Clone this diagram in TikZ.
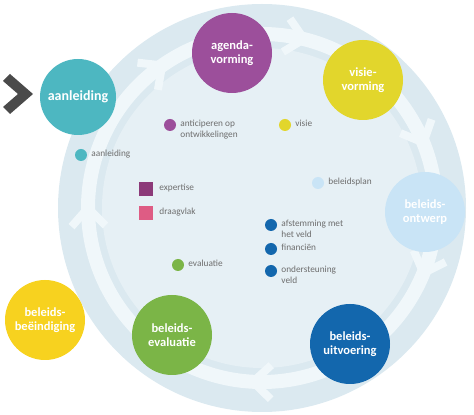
\documentclass[tikz,border=0pt]{standalone}
\usepackage{fontspec}
\setmainfont{Carlito}
\usepackage{tikz}
\usetikzlibrary{positioning, calc, arrows.meta}
\usepackage{xcolor}

\definecolor{cAanl}{HTML}{4DB7C1}
\definecolor{cAgenda}{HTML}{9C4F9B}
\definecolor{cVisie}{HTML}{E2D62C}
\definecolor{cOntwerp}{HTML}{C9E4F6}
\definecolor{cUitv}{HTML}{1367AD}
\definecolor{cEval}{HTML}{7BB547}
\definecolor{cEind}{HTML}{F7D21F}
\definecolor{cExp}{HTML}{8C3A79}
\definecolor{cDraag}{HTML}{DE5C84}
\definecolor{bgOuter}{HTML}{DBE9F0}
\definecolor{bgInner}{HTML}{E6F0F5}
\definecolor{ringWhite}{HTML}{F0F7FA}
\definecolor{txtGrey}{HTML}{6E6E6E}
\definecolor{chevGrey}{HTML}{4A4A4A}

\begin{document}
\begin{tikzpicture}[
    x=1pt, y=1pt,
    phasecirc/.style={circle, minimum size=80pt, inner sep=0pt, align=center,
        text=white, font=\fontsize{12.5}{14.5}\selectfont\bfseries},
    legdot/.style={circle, minimum size=12pt, inner sep=0pt},
    legbox/.style={minimum size=14pt, inner sep=0pt},
    legtext/.style={anchor=north west, inner sep=0pt, align=left,
        text=txtGrey, font=\fontsize{9.3}{11}\selectfont},
    chev/.style={draw=ringWhite, line width=8pt}
]
    \useasboundingbox (0,0) rectangle (474,415);

    % Background disk with ring
    \coordinate (mid) at (262,207);
    \fill[bgOuter] (mid) circle[radius=204];
    \fill[bgInner] (mid) circle[radius=160];
    \draw[ringWhite, line width=14pt] (mid) circle[radius=174];
    \foreach \a in {127, 78, 24, -20, -91, 182} {
        \draw[chev, shift={(mid)}, rotate=\a] (157,12) -- (174,-6) -- (191,12);
    }

    % Start marker
    \fill[chevGrey] (3,334) -- (10,341) -- (33,321) -- (10,301) -- (3,308) -- (18,321) -- cycle;

    % Phases
    \node[phasecirc, fill=cAanl, minimum size=76pt, font=\fontsize{14}{16}\selectfont\bfseries] (aanleiding) at (78,318) {aanleiding};
    \node[phasecirc, fill=cAgenda] (agenda) at (232,362) {agenda-\\vorming};
    \node[phasecirc, fill=cVisie] (visie) at (363,335) {visie-\\vorming};
    \node[phasecirc, fill=cOntwerp] (ontwerp) at (425,203) {beleids-\\ontwerp};
    \node[phasecirc, fill=cUitv] (uitvoering) at (350,71) {beleids-\\uitvoering};
    \node[phasecirc, fill=cEval] (evaluatie) at (172,80) {beleids-\\evaluatie};
    \node[phasecirc, fill=cEind] (eindiging) at (45,95) {beleids-\\beëindiging};

    % Legend
    \node[legdot, fill=cAgenda] (dAntic) at (170,290) {};
    \node[legtext] (tAntic) at ([xshift=4pt, yshift=5pt]dAntic.east) {anticiperen op\\ontwikkelingen};
    \node[legdot, fill=cAanl] (dAanl) at (81,260) {};
    \node[legtext] (tAanl) at ([xshift=4pt, yshift=5pt]dAanl.east) {aanleiding};
    \node[legdot, fill=cVisie] (dVisie) at (285,290) {};
    \node[legtext] (tVisie) at ([xshift=4pt, yshift=5pt]dVisie.east) {visie};
    \node[legdot, fill=cOntwerp] (dPlan) at (318,232) {};
    \node[legtext] (tPlan) at ([xshift=4pt, yshift=5pt]dPlan.east) {beleidsplan};
    \node[legbox, fill=cExp] (sExp) at (146,226) {};
    \node[legtext] (tExp) at ([xshift=6pt, yshift=5pt]sExp.east) {expertise};
    \node[legbox, fill=cDraag] (sDraag) at (146,202) {};
    \node[legtext] (tDraag) at ([xshift=6pt, yshift=5pt]sDraag.east) {draagvlak};
    \node[legdot, fill=cEval] (dEval) at (178,150) {};
    \node[legtext] (tEval) at ([xshift=4pt, yshift=5pt]dEval.east) {evaluatie};
    \node[legdot, fill=cUitv] (dAfst) at (271,190) {};
    \node[legtext] (tAfst) at ([xshift=4pt, yshift=5pt]dAfst.east) {afstemming met\\het veld};
    \node[legdot, fill=cUitv] (dFin) at (271,166) {};
    \node[legtext] (tFin) at ([xshift=4pt, yshift=5pt]dFin.east) {financiën};
    \node[legdot, fill=cUitv] (dOnder) at (271,144) {};
    \node[legtext] (tOnder) at ([xshift=4pt, yshift=5pt]dOnder.east) {ondersteuning\\veld};
\end{tikzpicture}
\end{document}
